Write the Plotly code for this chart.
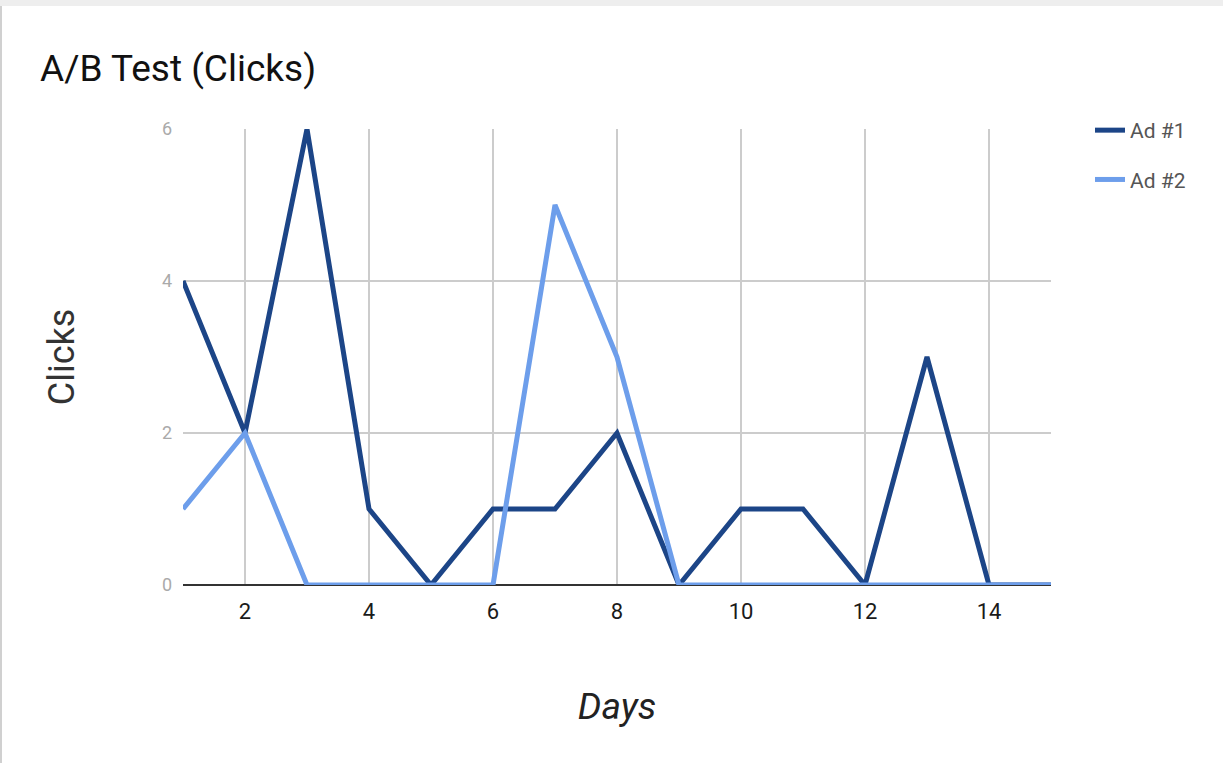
import plotly.graph_objects as go

days = list(range(1, 16))
ad1 = [4, 2, 6, 1, 0, 1, 1, 2, 0, 1, 1, 0, 3, 0, 0]
ad2 = [1, 2, 0, 0, 0, 0, 5, 3, 0, 0, 0, 0, 0, 0, 0]
x_ticks = [2, 4, 6, 8, 10, 12, 14]
y_ticks = [0, 2, 4, 6]

W, H = 1223, 763
ML, MR, MT, MB = 183, 172, 129, 178
PW, PH = W - ML - MR, H - MT - MB

fig = go.Figure()
fig.add_trace(go.Scatter(x=days, y=ad1, mode="lines", name="Ad #1",
                         line=dict(color="#1c4587", width=5), legendgroup="a"))
fig.add_trace(go.Scatter(x=days, y=ad2, mode="lines", name="Ad #2",
                         line=dict(color="#6d9eeb", width=5), legendgroup="b"))

def px_to_paper_x(px):
    return (px - ML) / PW

def px_to_paper_y(py):
    return 1 - (py - MT) / PH

fig.update_layout(
    width=W, height=H,
    margin=dict(l=ML, r=MR, t=MT, b=MB, autoexpand=False),
    paper_bgcolor="white", plot_bgcolor="white",
    font=dict(family="Roboto, Arial, sans-serif", color="#222"),
    title=dict(text="A/B Test (Clicks)", x=40 / W, xref="container", xanchor="left",
               y=1 - 68 / H, yref="container", yanchor="middle", font=dict(size=37, color="#111")),
    xaxis=dict(range=[1, 15], tickvals=x_ticks, showgrid=True, gridcolor="#cccccc", gridwidth=1.5,
               zeroline=False, showline=False, ticks="",
               tickfont=dict(size=22, color="#1a1a1a"), ticklabelstandoff=11,
               title=dict(text="<i>Days</i>", font=dict(size=37, color="#222"), standoff=70)),
    yaxis=dict(range=[0, 6], tickvals=y_ticks, showgrid=True, gridcolor="#cccccc", gridwidth=1.5,
               zeroline=True, zerolinecolor="#333333", zerolinewidth=1.5, showline=False, ticks="",
               tickfont=dict(size=18, color="#aaaaaa"), ticklabelstandoff=10,
               title=dict(text="Clicks", font=dict(size=36, color="#333"), standoff=76)),
    legend=dict(x=px_to_paper_x(1090), xanchor="left", y=px_to_paper_y(110), yanchor="top",
                font=dict(size=21, color="#555"), tracegroupgap=19, itemwidth=30,
                bgcolor="rgba(0,0,0,0)"),
    showlegend=True,
    shapes=[
        dict(type="rect", xref="paper", yref="paper",
             x0=px_to_paper_x(0), x1=px_to_paper_x(W), y0=px_to_paper_y(0), y1=px_to_paper_y(6),
             fillcolor="#eeeeee", line=dict(width=0), layer="below"),
        dict(type="line", xref="paper", yref="paper",
             x0=px_to_paper_x(1), x1=px_to_paper_x(1), y0=px_to_paper_y(6), y1=px_to_paper_y(H),
             line=dict(color="#d0d0d0", width=2)),
    ],
)

fig.write_html("out.html", config={"displayModeBar": False},
               post_script="document.body.style.margin='0px';")
